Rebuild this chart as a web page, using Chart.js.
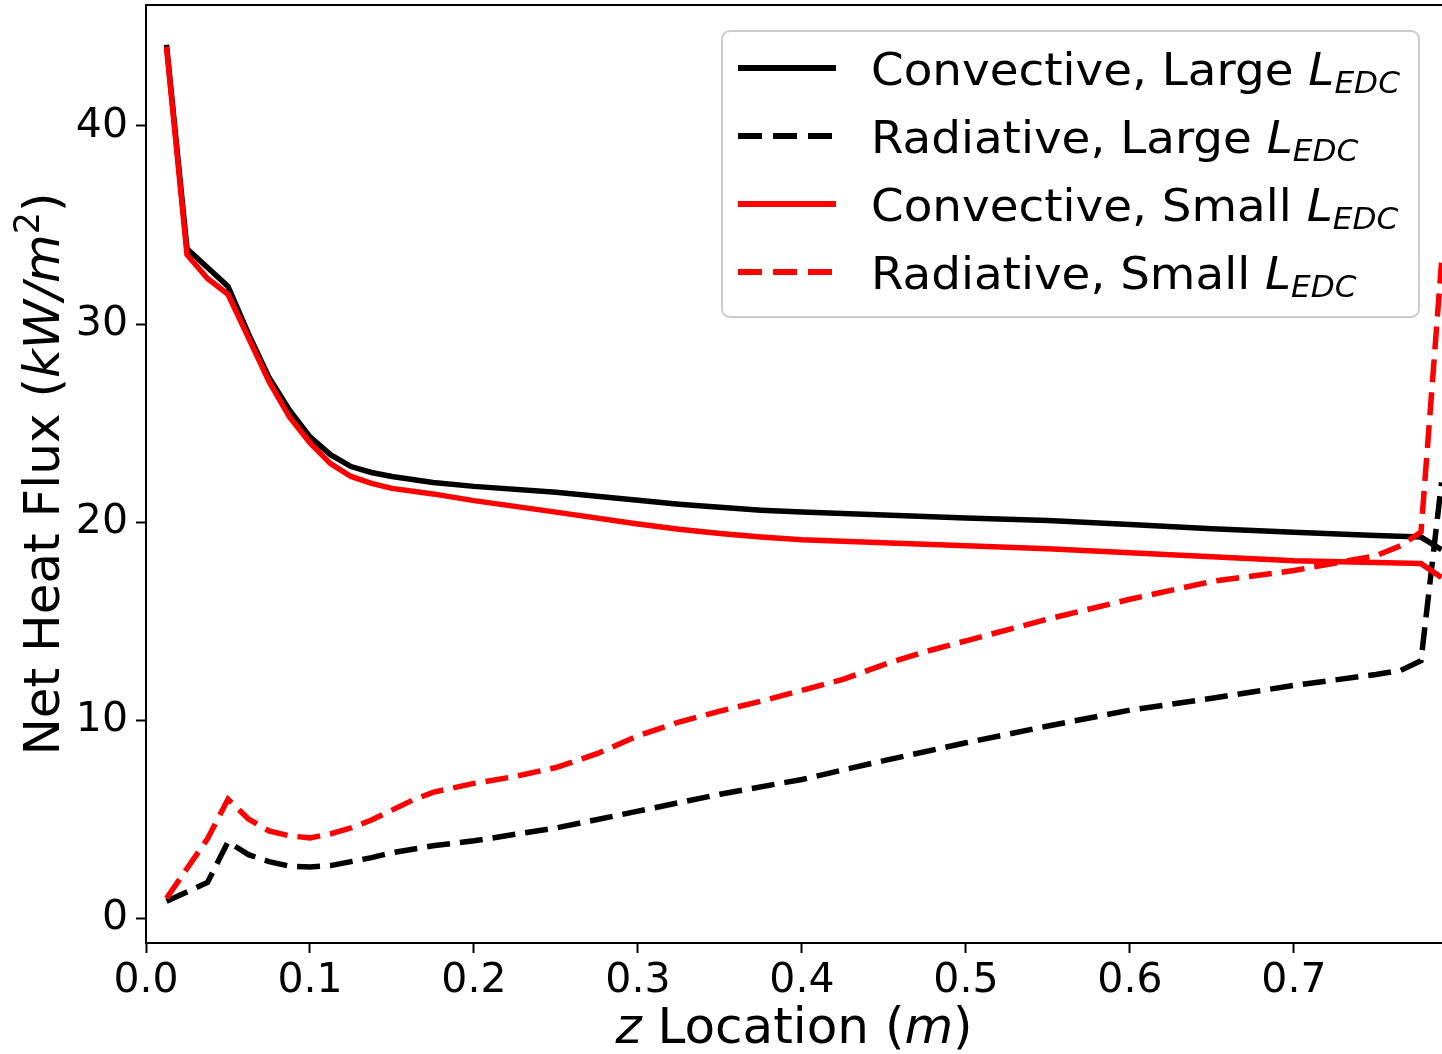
<!DOCTYPE html>
<html>
<head>
<meta charset="utf-8">
<script src="https://cdn.jsdelivr.net/npm/chart.js@4.4.1/dist/chart.umd.min.js"></script>
<style>
  html, body { margin: 0; padding: 0; background: #fff; }
  #wrap { width: 1442px; height: 1054px; }
</style>
</head>
<body>
<div id="wrap"><canvas id="chart" width="1442" height="1054"></canvas></div>
<script>
// z locations (m) and net heat flux (kW/m^2)
const zConvLarge = [0.0125, 0.025, 0.0375, 0.05, 0.0625, 0.075, 0.0875, 0.1, 0.1125, 0.125, 0.1375, 0.15, 0.175, 0.2, 0.25, 0.3, 0.325, 0.35, 0.375, 0.4, 0.45, 0.5, 0.55, 0.6, 0.65, 0.7, 0.75, 0.7775, 0.79]
const convLarge  = [44.1, 33.8, 32.85, 31.9, 29.5, 27.3, 25.65, 24.3, 23.4, 22.8, 22.5, 22.3, 22.0, 21.8, 21.5, 21.1, 20.9, 20.74, 20.6, 20.5, 20.35, 20.2, 20.08, 19.87, 19.66, 19.48, 19.32, 19.24, 18.6]

const zConvSmall = [0.0125, 0.025, 0.0375, 0.05, 0.0625, 0.075, 0.0875, 0.1, 0.1125, 0.125, 0.1375, 0.15, 0.175, 0.2, 0.25, 0.3, 0.325, 0.35, 0.375, 0.4, 0.45, 0.5, 0.55, 0.6, 0.65, 0.7, 0.75, 0.7775, 0.79]
const convSmall  = [44.0, 33.5, 32.3, 31.5, 29.3, 27.1, 25.3, 24.0, 22.95, 22.3, 21.95, 21.7, 21.42, 21.08, 20.5, 19.9, 19.63, 19.42, 19.24, 19.1, 18.95, 18.8, 18.65, 18.45, 18.25, 18.05, 17.95, 17.9, 17.2]

const zRadLarge = [0.0125, 0.0375, 0.05, 0.0625, 0.075, 0.0875, 0.1, 0.1125, 0.125, 0.1375, 0.15, 0.175, 0.2, 0.25, 0.3, 0.35, 0.4, 0.45, 0.5, 0.55, 0.6, 0.65, 0.7, 0.75, 0.765, 0.7775, 0.79]
const radLarge  = [0.85, 1.8, 3.85, 3.2, 2.85, 2.62, 2.58, 2.65, 2.85, 3.05, 3.3, 3.65, 3.9, 4.55, 5.4, 6.25, 7.0, 7.95, 8.85, 9.7, 10.5, 11.1, 11.75, 12.3, 12.5, 13.0, 22.0]

const zRadSmall = [0.0125, 0.025, 0.0375, 0.05, 0.0625, 0.075, 0.0875, 0.1, 0.1125, 0.125, 0.1375, 0.15, 0.1625, 0.175, 0.2, 0.225, 0.25, 0.275, 0.3, 0.325, 0.35, 0.375, 0.4, 0.425, 0.45, 0.475, 0.5, 0.55, 0.6, 0.65, 0.7, 0.75, 0.765, 0.7775, 0.79]
const radSmall  = [1.0, 2.5, 4.0, 6.0, 5.0, 4.4, 4.15, 4.05, 4.25, 4.55, 4.95, 5.45, 5.95, 6.35, 6.8, 7.15, 7.6, 8.3, 9.2, 9.9, 10.45, 10.95, 11.5, 12.05, 12.8, 13.45, 14.0, 15.1, 16.1, 17.0, 17.55, 18.3, 18.8, 19.5, 33.1]

const xTicks = [0.0, 0.1, 0.2, 0.3, 0.4, 0.5, 0.6, 0.7]
const yTicks = [0, 10, 20, 30, 40]

const FONT = '"DejaVu Sans", sans-serif'

const toPoints = (xs, ys) => xs.map((x, i) => ({ x: x, y: ys[i] }))

// Draw a run of text pieces (plain / italic / sub / superscript)
function richWidth(ctx, parts) {
  let w = 0
  for (const p of parts) {
    ctx.font = `${p.italic ? 'italic ' : ''}${p.size}px ${FONT}`
    w += ctx.measureText(p.t).width
  }
  return w
}

function drawRich(ctx, parts, x, y, sx, align) {
  ctx.save()
  ctx.translate(x, y)
  ctx.scale(sx, 1)
  let cx = align === 'center' ? -richWidth(ctx, parts) / 2 : 0
  ctx.textAlign = 'left'
  ctx.textBaseline = 'alphabetic'
  ctx.fillStyle = '#000'
  for (const p of parts) {
    ctx.font = `${p.italic ? 'italic ' : ''}${p.size}px ${FONT}`
    ctx.fillText(p.t, cx, p.dy || 0)
    cx += ctx.measureText(p.t).width
  }
  ctx.restore()
}

const legendItems = [
  { kind: 'Convective', size: 'Large', color: '#000', dash: [] },
  { kind: 'Radiative', size: 'Large', color: '#000', dash: [24, 11] },
  { kind: 'Convective', size: 'Small', color: '#ff0000', dash: [] },
  { kind: 'Radiative', size: 'Small', color: '#ff0000', dash: [24, 11] }
]

const decorPlugin = {
  id: 'decor',
  afterDraw(chart) {
    const ctx = chart.ctx
    const a = chart.chartArea

    // frame (left, bottom, top spines)
    ctx.save()
    ctx.strokeStyle = '#000'
    ctx.lineWidth = 2
    ctx.beginPath()
    ctx.moveTo(a.right + 2, a.top)
    ctx.lineTo(a.left, a.top)
    ctx.lineTo(a.left, a.bottom)
    ctx.lineTo(a.right + 2, a.bottom)
    ctx.stroke()
    ctx.restore()

    // x axis title
    drawRich(ctx, [
      { t: 'z', italic: true, size: 50 },
      { t: ' Location (', size: 50 },
      { t: 'm', italic: true, size: 50 },
      { t: ')', size: 50 }
    ], (a.left + a.right) / 2, 1043, 1.0, 'center')

    // y axis title (rotated)
    ctx.save()
    ctx.translate(59, (a.top + a.bottom) / 2)
    ctx.rotate(-Math.PI / 2)
    drawRich(ctx, [
      { t: 'Net Heat Flux (', size: 50 },
      { t: 'kW/m', italic: true, size: 50 },
      { t: '2', size: 35, dy: -20 },
      { t: ')', size: 50 }
    ], 0, 0, 1, 'center')
    ctx.restore()

    // legend box
    ctx.save()
    ctx.beginPath()
    ctx.roundRect(722, 31, 697, 286, 8)
    ctx.fillStyle = 'rgba(255,255,255,0.8)'
    ctx.fill()
    ctx.strokeStyle = '#cccccc'
    ctx.lineWidth = 2
    ctx.stroke()
    ctx.restore()

    legendItems.forEach((item, i) => {
      const rowY = 68 + i * 68
      ctx.save()
      ctx.strokeStyle = item.color
      ctx.lineWidth = 6
      ctx.setLineDash(item.dash)
      ctx.beginPath()
      ctx.moveTo(738, rowY)
      ctx.lineTo(836, rowY)
      ctx.stroke()
      ctx.restore()
      drawRich(ctx, [
        { t: `${item.kind}, ${item.size} `, size: 45 },
        { t: 'L', italic: true, size: 45 },
        { t: 'EDC', italic: true, size: 30, dy: 8 }
      ], 871, rowY + 17, 1.04, 'left')
    })
  }
}

const lineStyle = (color, dash, order) => ({
  borderColor: color,
  backgroundColor: color,
  borderWidth: 5.5,
  borderDash: dash,
  pointRadius: 0,
  tension: 0,
  fill: false,
  order: order
})

new Chart(document.getElementById('chart'), {
  type: 'line',
  data: {
    datasets: [
      { label: 'Convective, Large L_EDC', data: toPoints(zConvLarge, convLarge), ...lineStyle('#000000', [], 4) },
      { label: 'Radiative, Large L_EDC', data: toPoints(zRadLarge, radLarge), ...lineStyle('#000000', [23, 10], 3) },
      { label: 'Convective, Small L_EDC', data: toPoints(zConvSmall, convSmall), ...lineStyle('#ff0000', [], 2) },
      { label: 'Radiative, Small L_EDC', data: toPoints(zRadSmall, radSmall), ...lineStyle('#ff0000', [23, 10], 1) }
    ]
  },
  options: {
    responsive: false,
    devicePixelRatio: 1,
    animation: false,
    layout: { padding: { top: 5, right: 0, bottom: 0, left: 0 } },
    plugins: {
      legend: { display: false },
      tooltip: { enabled: false }
    },
    scales: {
      x: {
        type: 'linear',
        position: 'bottom',
        min: 0,
        max: 0.7903,
        afterBuildTicks: (s) => { s.ticks = xTicks.map(v => ({ value: v })) },
        afterFit: (s) => { s.height = 111; s.paddingLeft = 0; s.paddingRight = 0 },
        border: { display: false },
        grid: { drawOnChartArea: false, drawTicks: true, tickLength: 10, tickWidth: 2, tickColor: '#000' },
        ticks: {
          color: '#000',
          font: { family: FONT, size: 41 },
          padding: 4,
          maxRotation: 0,
          callback: (v) => Number(v).toFixed(1)
        }
      },
      y: {
        type: 'linear',
        min: -1.26,
        max: 46.11,
        afterBuildTicks: (s) => { s.ticks = yTicks.map(v => ({ value: v })) },
        afterFit: (s) => { s.width = 146; s.paddingTop = 0; s.paddingBottom = 0 },
        border: { display: false },
        grid: { drawOnChartArea: false, drawTicks: true, tickLength: 10, tickWidth: 2, tickColor: '#000' },
        ticks: {
          color: '#000',
          font: { family: FONT, size: 41 },
          padding: 8,
          callback: (v) => String(v)
        }
      }
    }
  },
  plugins: [decorPlugin]
})
</script>
</body>
</html>
